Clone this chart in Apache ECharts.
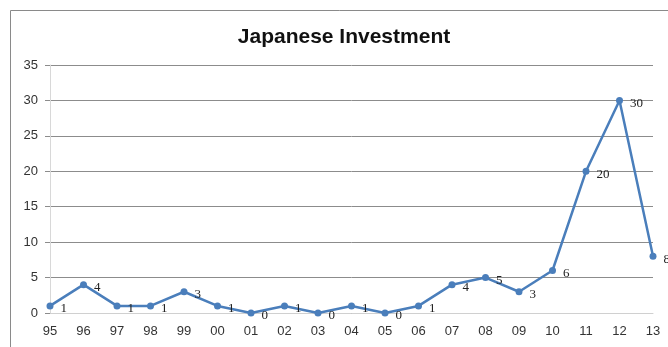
<!DOCTYPE html>
<html><head><meta charset="utf-8">
<script src="https://cdn.jsdelivr.net/npm/echarts@6/dist/echarts.min.js"></script>
<style>html,body{margin:0;padding:0;background:#fff}#c{width:668px;height:347px}</style>
</head><body><div id="c"></div>
<script>
const categories = ['95','96','97','98','99','00','01','02','03','04','05','06','07','08','09','10','11','12','13'];
const investment = [1,4,1,1,3,1,0,1,0,1,0,1,4,5,3,6,20,30,8];
const yTicks = {min:0, max:35, interval:5};

const chart = echarts.init(document.getElementById('c'), null, {renderer:'canvas'});
chart.setOption({
  backgroundColor:'#fff',
  animation:false,
  title:{text:'Japanese Investment', left:339, top:22, textAlign:'center',
    textStyle:{fontFamily:'Liberation Sans, Arial', fontWeight:'bold', fontSize:21, color:'#111'}},
  graphic:[{type:'rect', shape:{x:10.5,y:10.5,width:670,height:350},
    style:{fill:'none', stroke:'#8a8a8a', lineWidth:1}}],
  grid:{left:50, right:15, top:65, bottom:34},
  xAxis:{type:'category', data:categories, boundaryGap:false,
    axisLine:{show:true, lineStyle:{color:'#d0d0d0'}}, axisTick:{show:false},
    axisLabel:{color:'#333', fontFamily:'Liberation Sans, Arial', fontSize:13, margin:12}},
  yAxis:{type:'value', min:yTicks.min, max:yTicks.max, interval:yTicks.interval,
    axisLine:{show:true, lineStyle:{color:'#d8d8d8'}},
    axisTick:{show:true, length:5, lineStyle:{color:'#8c8c8c'}},
    axisLabel:{color:'#333', fontFamily:'Liberation Sans, Arial', fontSize:13, margin:12},
    splitLine:{lineStyle:{color:'#8c8c8c', width:1}}},
  series:[{type:'line', data:investment, symbol:'circle', symbolSize:7,
    lineStyle:{color:'#4a7ebb', width:2.5}, itemStyle:{color:'#4a7ebb'},
    label:{show:true, position:'right', offset:[2,3], color:'#222',
      fontFamily:'Liberation Serif, Times New Roman', fontSize:13}}]
});
</script></body></html>
